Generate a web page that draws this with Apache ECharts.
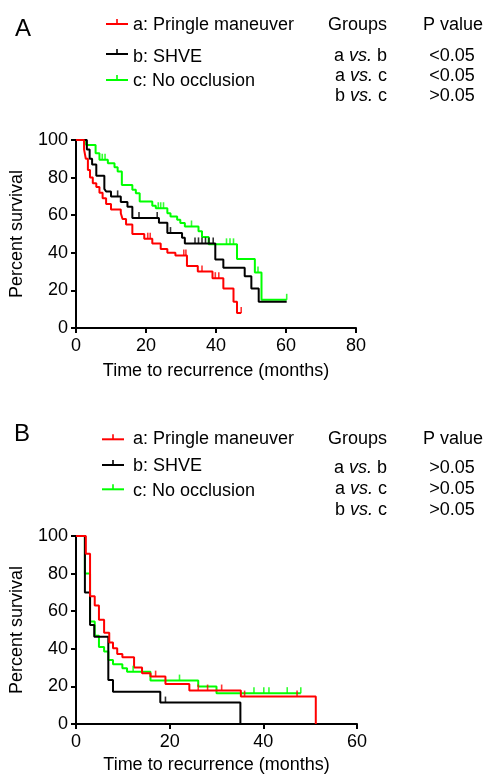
<!DOCTYPE html>
<html>
<head>
<meta charset="utf-8">
<script src="https://cdn.jsdelivr.net/npm/echarts@6/dist/echarts.min.js"></script>
<style>
html,body{margin:0;padding:0;background:#fff;}
#chart{width:485px;height:775px;}
</style>
</head>
<body>
<div id="chart"></div>
<script>
// ---------- DATA ----------
const legendNames = ['a: Pringle maneuver', 'b: SHVE', 'c: No occlusion'];
const groupLabels = ['a {i|vs.} b', 'a {i|vs.} c', 'b {i|vs.} c'];
const pValuesA = ['<0.05', '<0.05', '>0.05'];
const pValuesB = ['>0.05', '>0.05', '>0.05'];
const xAxisName = 'Time to recurrence (months)';
const yAxisName = 'Percent survival';

// Panel A (Kaplan-Meier steps: [month, percent])
const pringleA = [[0,100],[2.3,95],[2.8,90],[3.4,84],[4,80],[4.8,77],[5.8,75],[6.7,72],[7.6,69],[8.6,66],[10,63],[12.8,61],[13.3,58],[14.3,55],[16.1,50],[19.5,47.5],[21.8,45],[24.2,42],[26.1,40],[28.4,38.5],[31.7,33],[34.8,30],[39,26.5],[42.1,21],[45,14],[46,8],[47.2,8]];
const pringleA_cens = [[20.5,47.5],[21.2,47.5],[30.8,38.5],[31.4,38.5],[36,30],[39.8,26.5],[40.8,26.5],[47.2,8]];
const shveA = [[0,100],[3.1,95],[3.9,90],[4.6,87],[5.8,81],[8.1,74],[8.6,72.6],[10,70],[12.8,67],[14.7,64.5],[16.1,58.5],[23.7,56],[26.1,50.5],[30.3,48],[31.1,45],[39.8,36.5],[42.1,32],[48.2,27.5],[50.1,21],[52.2,14],[60.2,14]];
const shveA_cens = [[11.9,70],[18,58.5],[23.2,58.5],[27,50.5],[34,45],[35,45],[36,45],[37,45],[38,45],[39.2,45]];
const noOccA = [[0,100],[2.9,97.3],[5.6,93],[6.7,89.5],[9.1,87.6],[11,85.5],[11.9,83.2],[13.1,76],[16.1,73.5],[17.1,71.7],[18.2,67.3],[21.8,65],[22.8,63.7],[26.1,61],[27,59.3],[28.9,57.6],[29.8,55.8],[31.1,54],[35,51.4],[36,48.4],[37.9,44.5],[46,36.7],[51.1,29.5],[53,15],[60.2,15]];
const noOccA_cens = [[7.5,89.5],[8.3,89.5],[23.5,63.7],[24.2,63.7],[25,63.7],[33,54],[43,44.5],[44,44.5],[45,44.5],[52,29.5],[60.2,15]];

// Panel B
const pringleB = [[0,100],[2.1,90.5],[3,68],[4,63],[4.9,55.5],[6,48.5],[7.1,43.3],[7.9,40.3],[8.8,37.2],[9.9,35.5],[12.4,30],[14.1,27],[15.9,25.2],[19.1,21.3],[24.2,17.8],[35.2,14.6],[51.2,0]];
const pringleB_cens = [[17,25.2],[26.1,17.8],[28.1,17.8],[31.1,17.8],[36,14.6],[47.2,14.6]];
const shveB = [[0,100],[1.9,70],[3.0,52.6],[3.9,46.4],[6.9,23.4],[7.9,17.2],[18,11.4],[35.1,0]];
const shveB_cens = [[19.1,11.4]];
const noOccB = [[0,100],[1.9,80],[3.0,54.5],[4.0,47],[4.9,41],[6.0,38.5],[6.9,34],[7.9,31.8],[9.9,29.6],[10.9,27.8],[15.9,23.1],[26.1,20],[30,16.4],[48,16.4]];
const noOccB_cens = [[12.2,27.8],[22.1,23.1],[38,16.4],[40.1,16.4],[41.2,16.4],[45.1,16.4],[48,16.4]];

// ---------- STYLE ----------
const FONT = "'Liberation Sans', Arial, Helvetica, sans-serif";
const RED = '#ff0000', BLACK = '#000000', GREEN = '#00ff00';
const colors = [RED, BLACK, GREEN];

function xAxis(idx, max, gap) {
  return {
    type: 'value', gridIndex: idx, min: 0, max: max, interval: 20,
    name: xAxisName, nameLocation: 'middle', nameGap: gap,
    nameTextStyle: {color: '#000', fontSize: 18, fontFamily: FONT},
    axisLine: {show: true, onZero: false, lineStyle: {color: '#000', width: 2}},
    axisTick: {show: true, length: 5, lineStyle: {color: '#000', width: 2}},
    axisLabel: {color: '#000', fontSize: 18, fontFamily: FONT, margin: 9},
    splitLine: {show: false}
  };
}
function yAxis(idx) {
  return {
    type: 'value', gridIndex: idx, min: 0, max: 100, interval: 20,
    name: yAxisName, nameLocation: 'middle', nameGap: 50, nameRotate: 90,
    nameTextStyle: {color: '#000', fontSize: 18, fontFamily: FONT},
    axisLine: {show: true, onZero: false, lineStyle: {color: '#000', width: 2}},
    axisTick: {show: true, length: 5, lineStyle: {color: '#000', width: 2}},
    axisLabel: {color: '#000', fontSize: 18, fontFamily: FONT, margin: 8},
    splitLine: {show: false}
  };
}
function km(data, color, g) {
  return {type: 'line', step: 'end', data: data, xAxisIndex: g, yAxisIndex: g,
    showSymbol: false, symbol: 'none', silent: true,
    lineStyle: {color: color, width: 2}, z: 3};
}
function cens(data, color, g) {
  return {type: 'scatter', data: data, xAxisIndex: g, yAxisIndex: g,
    symbol: 'rect', symbolSize: [1.6, 6], symbolOffset: [0, -3], silent: true,
    itemStyle: {color: color}, z: 4};
}

function txt(x, y, text, size, align, italicRich) {
  const st = {text: text, x: x, y: y, fill: '#000', font: size + 'px ' + FONT,
    align: align || 'left', verticalAlign: 'middle'};
  if (italicRich) st.rich = {i: {fontStyle: 'italic', fontSize: size, fontFamily: FONT, fill: '#000'}};
  return {type: 'text', style: st, z: 10};
}
function legendSample(x1, x2, y, color) {
  return [
    {type: 'line', shape: {x1: x1, y1: y, x2: x2, y2: y}, style: {stroke: color, lineWidth: 2}, z: 10},
    {type: 'line', shape: {x1: (x1 + x2) / 2, y1: y, x2: (x1 + x2) / 2, y2: y - 5}, style: {stroke: color, lineWidth: 1.6}, z: 10}
  ];
}

const graphics = [];
// Panel A header
graphics.push(txt(15, 29, 'A', 24));
const legA_text = [24.7, 56.7, 81.3];
const legA_line = [24, 54, 80];
const grpA = [55.7, 75.7, 95.7];
legendNames.forEach((n, i) => {
  graphics.push(...legendSample(106, 128, legA_line[i], colors[i]));
  graphics.push(txt(133, legA_text[i], n, 18));
});
graphics.push(txt(387, 24.7, 'Groups', 18, 'right'));
graphics.push(txt(453, 24.7, 'P value', 18, 'center'));
groupLabels.forEach((g, i) => {
  graphics.push(txt(387, grpA[i], g, 18, 'right', true));
  graphics.push(txt(452, grpA[i], pValuesA[i], 18, 'center'));
});
// Panel B header
graphics.push(txt(14, 434, 'B', 24));
const legB_text = [439, 465.7, 491.3];
const legB_line = [439.3, 465, 489.3];
const grpB = [468, 489, 510];
legendNames.forEach((n, i) => {
  graphics.push(...legendSample(102, 124, legB_line[i], colors[i]));
  graphics.push(txt(133, legB_text[i], n, 18));
});
graphics.push(txt(387, 439, 'Groups', 18, 'right'));
graphics.push(txt(453, 439, 'P value', 18, 'center'));
groupLabels.forEach((g, i) => {
  graphics.push(txt(387, grpB[i], g, 18, 'right', true));
  graphics.push(txt(452, grpB[i], pValuesB[i], 18, 'center'));
});

const chart = echarts.init(document.getElementById('chart'), null, {renderer: 'canvas'});
chart.setOption({
  backgroundColor: '#fff',
  animation: false,
  textStyle: {fontFamily: FONT},
  grid: [
    {left: 73, top: 140, width: 283, height: 188},
    {left: 73, top: 536, width: 284, height: 188}
  ],
  xAxis: [xAxis(0, 80, 34), xAxis(1, 60, 32)],
  yAxis: [yAxis(0), yAxis(1)],
  series: [
    km(noOccA, GREEN, 0), km(shveA, BLACK, 0), km(pringleA, RED, 0),
    cens(noOccA_cens, GREEN, 0), cens(shveA_cens, BLACK, 0), cens(pringleA_cens, RED, 0),
    km(noOccB, GREEN, 1), km(shveB, BLACK, 1), km(pringleB, RED, 1),
    cens(noOccB_cens, GREEN, 1), cens(shveB_cens, BLACK, 1), cens(pringleB_cens, RED, 1)
  ],
  graphic: graphics
});
</script>
</body>
</html>
